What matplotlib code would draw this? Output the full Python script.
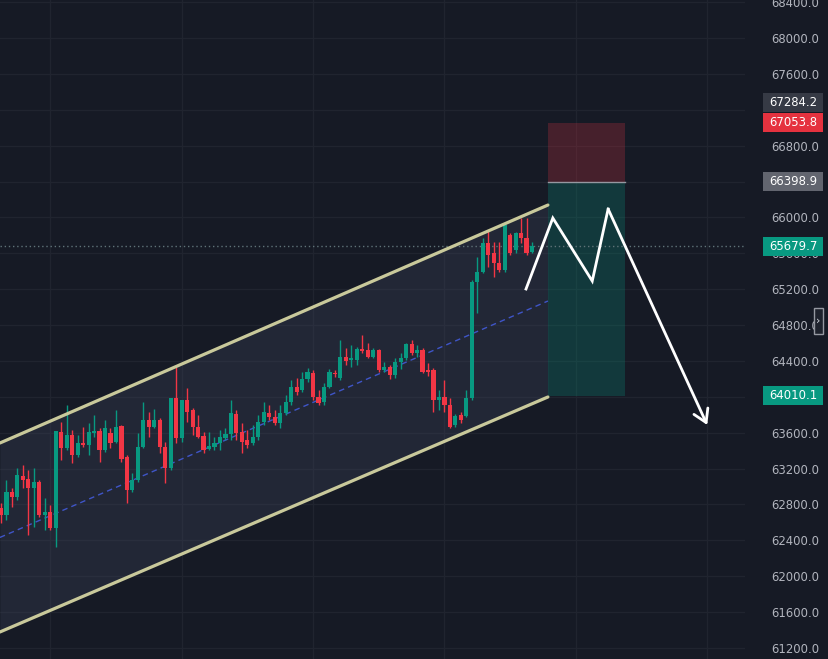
import numpy as np
import matplotlib.pyplot as plt
from matplotlib.patches import Rectangle
import matplotlib.transforms as mtransforms

# candles
opens = [62761, 62682, 62939, 62883, 63117, 63084, 62984, 63050, 62682, 62716,
         62538, 63608, 63429, 63574, 63351, 63485, 63463, 63597, 63619, 63407,
         63597, 63496, 63675, 63329, 62961, 63073, 63440, 63741, 63663, 63741,
         63440, 63206, 63987, 63541, 63964, 63853, 63663, 63563, 63418, 63440,
         63485, 63541, 63586, 63808, 63608, 63519, 63485, 63552, 63719, 63820,
         63775, 63708, 63820, 63942, 64109, 64076, 64198, 64265, 63998, 63942,
         64109, 64265, 64210, 64444, 64410, 64410, 64533, 64522, 64444, 64522,
         64299, 64332, 64243, 64388, 64433, 64589, 64488, 64522, 64299, 64299,
         63964, 63998, 63909, 63686, 63797, 63786, 63987, 65280, 65391, 65715,
         65603, 65492, 65414, 65804, 65637, 65826, 65770, 65614]
closes = [62682, 62939, 62883, 63128, 63073, 62984, 63050, 62682, 62716, 62538,
          63619, 63429, 63574, 63351, 63485, 63463, 63608, 63619, 63407, 63652,
          63485, 63663, 63307, 62961, 63073, 63440, 63741, 63663, 63741, 63440,
          63206, 63987, 63541, 63964, 63831, 63663, 63552, 63407, 63452, 63485,
          63552, 63586, 63820, 63597, 63496, 63463, 63552, 63719, 63831, 63775,
          63708, 63820, 63942, 64109, 64053, 64198, 64276, 63998, 63931, 64109,
          64276, 64254, 64444, 64399, 64433, 64533, 64511, 64444, 64522, 64299,
          64332, 64243, 64388, 64433, 64589, 64488, 64522, 64276, 64276, 63964,
          63998, 63909, 63663, 63786, 63741, 63987, 65280, 65391, 65715, 65581,
          65492, 65414, 65915, 65603, 65826, 65770, 65603, 65680]
highs = [62816, 63073, 62984, 63206, 63240, 63184, 63206, 63073, 62872, 62794,
         63619, 63719, 63909, 63630, 63574, 63663, 63708, 63797, 63652, 63741,
         63652, 63853, 63686, 63351, 63151, 63597, 63942, 63831, 63864, 63764,
         63496, 63987, 64332, 63964, 64098, 63875, 63797, 63608, 63608, 63552,
         63630, 63652, 63964, 63853, 63708, 63630, 63686, 63797, 63942, 63909,
         63853, 63909, 64020, 64187, 64210, 64276, 64321, 64299, 64076, 64154,
         64310, 64299, 64633, 64544, 64578, 64555, 64689, 64600, 64544, 64533,
         64388, 64355, 64433, 64488, 64600, 64633, 64578, 64544, 64377, 64321,
         64076, 64187, 63987, 63808, 63831, 64076, 65302, 65559, 65770, 65860,
         65726, 65726, 65949, 65826, 65837, 65993, 65993, 65726]
lows = [62593, 62627, 62772, 62850, 62984, 62460, 62549, 62660, 62515, 62515,
        62326, 63296, 63407, 63262, 63329, 63440, 63351, 63552, 63273, 63385,
        63429, 63485, 63273, 62816, 62939, 63050, 63429, 63552, 63652, 63374,
        63039, 63184, 63485, 63496, 63719, 63574, 63541, 63374, 63407, 63407,
        63407, 63519, 63519, 63519, 63374, 63429, 63463, 63519, 63686, 63741,
        63686, 63652, 63797, 63909, 64020, 64053, 64165, 63964, 63909, 63909,
        64098, 64221, 64187, 64355, 64332, 64355, 64488, 64433, 64433, 64276,
        64276, 64198, 64210, 64310, 64410, 64466, 64444, 64265, 64232, 63831,
        63853, 63831, 63652, 63663, 63708, 63775, 63964, 64934, 65380, 65447,
        65336, 65391, 65391, 65581, 65603, 65715, 65581, 65603]

# channel
chan_x = [-0.2, 99.9]
chan_upper = [63485, 66138]
chan_lower = [61378, 63998]
chan_mid = [62432, 65068]

# short position box
box_x = [99.9, 114.0]
stop_price = 67053.8
entry_price = 66398.9
target_price = 64010.1

# projected path
path_x = [95.9, 100.8, 108.0, 110.9, 129.0]
path_y = [65202, 65993, 65291, 66094, 63686]

# price scale tags
tag_values = [67284.2, 67053.8, 66398.9, 65679.7, 64010.1]
tag_colors = ['#363a45', '#e5323f', '#62656f', '#089981', '#089981']
last_price = 65679.7
hidden_ticks = [67200, 66400, 64000]   # covered by the tags

bg = '#161a25'
green = '#089981'
red = '#f23645'

plt.rcParams['font.family'] = 'DejaVu Sans'

fig = plt.figure(figsize=(8.29, 6.59), dpi=100, facecolor=bg)
ax = fig.add_axes([0, 0, 745 / 829, 1])
ax.set_facecolor(bg)
ax.set_xlim(-0.18, 135.9)
ax.set_ylim(61077, 68424)

# grid
yt = np.arange(61200, 68401, 400)
ax.set_yticks(yt)
ax.set_yticklabels(['' if v in hidden_ticks else '%.1f' % v for v in yt])
for v in yt:
    ax.axhline(v, color='#20242f', lw=1, zorder=0)
for gx in np.arange(9, 136, 24):
    ax.axvline(gx, color='#20242f', lw=1, zorder=0)

# channel
ax.fill_between(chan_x, chan_lower, chan_upper, color='#3b4158', alpha=0.35, lw=0, zorder=1)
ax.plot(chan_x, chan_upper, color='#c9c99b', lw=2.3, solid_capstyle='round', zorder=6)
ax.plot(chan_x, chan_lower, color='#c9c99b', lw=2.3, solid_capstyle='round', zorder=6)
ax.plot(chan_x, chan_mid, color='#3f55c8', lw=1, ls=(0, (4, 3)), zorder=2)

# position box
ax.fill_between(box_x, entry_price, stop_price, color=red, alpha=0.22, lw=0, zorder=1)
ax.fill_between(box_x, target_price, entry_price, color=green, alpha=0.25, lw=0, zorder=1)
ax.plot(box_x, [entry_price, entry_price], color='#9598a1', lw=1, zorder=2)

# last price line
ax.axhline(last_price, color='#5f7378', lw=1, ls=(0, (1, 2)), zorder=1)

# candles
x = np.arange(len(opens))
o = np.array(opens, float)
c = np.array(closes, float)
h = np.array(highs, float)
l = np.array(lows, float)
col = np.where(c >= o, green, red)
ax.vlines(x, l, h, colors=col, lw=1, zorder=4)
ax.bar(x, np.maximum(np.abs(c - o), 15), bottom=np.minimum(o, c), width=0.76,
       color=col, lw=0, zorder=5)

# path with arrow
ax.plot(path_x[:-1], path_y[:-1], color='white', lw=2, solid_joinstyle='miter', zorder=7)
ax.annotate('', xy=(path_x[-1], path_y[-1]), xytext=(path_x[-2], path_y[-2]),
            arrowprops=dict(arrowstyle='->,head_length=0.9,head_width=0.55',
                            color='white', lw=2, shrinkA=0, shrinkB=0), zorder=7)

# axis styling
for s in ax.spines.values():
    s.set_visible(False)
ax.set_xticks([])
ax.yaxis.tick_right()
ax.tick_params(axis='y', length=0, pad=19, labelsize=8.4, labelcolor='#b2b5be')

# price tags
trans = mtransforms.blended_transform_factory(ax.transAxes, ax.transData)
half = 9.5 * 11.148
for v, fc in zip(tag_values, tag_colors):
    ax.add_patch(Rectangle((763 / 745, v - half), 60 / 745, 2 * half, transform=trans,
                           facecolor=fc, edgecolor='none', clip_on=False, zorder=8))
    ax.text(793 / 745, v, '%.1f' % v, transform=trans, ha='center', va='center',
            fontsize=8.4, color='white', clip_on=False, zorder=9)

# scale button
fig.add_artist(Rectangle((814 / 829, 1 - 334 / 659), 9 / 829, 26 / 659,
                         transform=fig.transFigure, facecolor='#1e222d',
                         edgecolor='#9598a1', lw=1, zorder=10))
fig.text(818.5 / 829, 1 - 321 / 659, '›', ha='center', va='center',
         color='#d1d4dc', fontsize=8, zorder=11)

fig.savefig('out.png', dpi=100, facecolor=bg)
